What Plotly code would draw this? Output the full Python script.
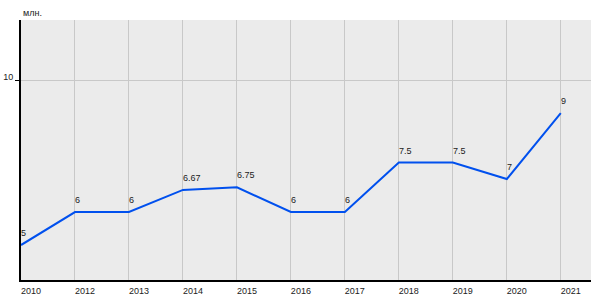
import plotly.graph_objects as go

years = ["2010", "2012", "2013", "2014", "2015", "2016", "2017", "2018", "2019", "2020", "2021"]
values = [5, 6, 6, 6.67, 6.75, 6, 6, 7.5, 7.5, 7, 9]
labels = ["5", "6", "6", "6.67", "6.75", "6", "6", "7.5", "7.5", "7", "9"]
unit = "млн."

xs = list(range(len(years)))

fig = go.Figure()
fig.add_trace(go.Scatter(
    x=xs, y=values, mode="lines",
    line=dict(color="#0050EE", width=2),
    hoverinfo="skip",
))

annotations = [dict(
    text=t, x=x, y=v, xref="x", yref="y",
    xanchor="left", yanchor="bottom", xshift=-2, yshift=5,
    showarrow=False, font=dict(size=9, color="#222"),
) for x, v, t in zip(xs, values, labels)]
annotations.append(dict(
    text=unit, x=0, y=1, xref="paper", yref="paper",
    xanchor="left", yanchor="bottom", yshift=0, showarrow=False,
    font=dict(size=9, color="#222"),
))

fig.update_layout(
    width=600, height=300,
    margin=dict(l=21, r=9, t=20, b=20),
    paper_bgcolor="white", plot_bgcolor="#EBEBEB",
    showlegend=False,
    font=dict(family="Liberation Sans, Arial", size=9, color="#222"),
    xaxis=dict(
        range=[0, 10.56], tickmode="array",
        tickvals=xs, ticktext=years,
        showgrid=True, gridcolor="#C8C8C8", gridwidth=1,
        showline=True, linecolor="black", linewidth=2,
        ticks="", zeroline=False, automargin=False,
        ticklabelshift=10, ticklabelstandoff=1,
        tickfont=dict(size=9, color="#222"),
    ),
    yaxis=dict(
        range=[3.94, 11.82], tickmode="array", tickvals=[10], ticktext=["10"],
        showgrid=True, gridcolor="#C8C8C8", gridwidth=1,
        showline=True, linecolor="black", linewidth=2,
        ticks="outside", ticklen=4, tickcolor="black",
        zeroline=False, automargin=False, tickfont=dict(size=9, color="#222"),
        ticklabelshift=-3, ticklabelstandoff=0,
    ),
    annotations=annotations,
)

fig.write_html("out.html")
